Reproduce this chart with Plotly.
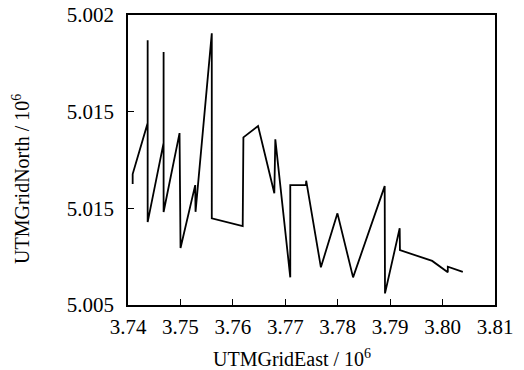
import plotly.graph_objects as go

east = [3.74089, 3.74089, 3.74375, 3.74375, 3.74375, 3.74679, 3.74679, 3.74679,
        3.74983, 3.75002, 3.75282, 3.75288, 3.75598, 3.75598, 3.76188, 3.76201,
        3.76481, 3.76791, 3.76810, 3.77095, 3.77095, 3.77394, 3.77399, 3.77679,
        3.77995, 3.78293, 3.78896, 3.78902, 3.79182, 3.79187, 3.79802, 3.80100,
        3.80100, 3.80386]
north = [5.01126, 5.01177, 5.01441, 5.01870, 5.00929, 5.01338, 5.01808, 5.00981,
         5.01389, 5.00795, 5.01120, 5.00982, 5.01905, 5.00948, 5.00908, 5.01367,
         5.01426, 5.01078, 5.01357, 5.00643, 5.01120, 5.01120, 5.01143, 5.00695,
         5.00974, 5.00643, 5.01115, 5.00560, 5.00897, 5.00784, 5.00728, 5.00669,
         5.00698, 5.00671]

x_ticks = [3.74, 3.75, 3.76, 3.77, 3.78, 3.79, 3.80, 3.81]
x_tick_labels = ["3.74", "3.75", "3.76", "3.77", "3.78", "3.79", "3.80", "3.81"]
y_ticks = [5.005, 5.010, 5.015, 5.020]
y_tick_labels = ["5.005", "5.015", "5.015", "5.002"]
x_title = "UTMGridEast / 10<sup>6</sup>"
y_title = "UTMGridNorth / 10<sup>6</sup>"

font = "Liberation Serif, Times New Roman, serif"

fig = go.Figure()
fig.add_trace(go.Scatter(x=east, y=north, mode="lines",
                         line=dict(color="black", width=1.8),
                         showlegend=False, hoverinfo="skip"))

axis_common = dict(showgrid=False, zeroline=False, showline=True, linecolor="black",
                   linewidth=1.6, mirror=True, ticks="inside", ticklen=6,
                   tickwidth=1.3, tickcolor="black", automargin=False,
                   tickfont=dict(family=font, size=21, color="black"))

fig.update_xaxes(range=[3.74, 3.81], tickvals=x_ticks, ticktext=x_tick_labels,
                 ticklabelstandoff=2, **axis_common)
fig.update_yaxes(range=[5.005, 5.020], tickvals=y_ticks, ticktext=y_tick_labels,
                 ticklabelstandoff=8, **axis_common)

fig.add_annotation(text=x_title, xref="paper", yref="paper", x=0.448, y=-0.183,
                   xanchor="center", yanchor="middle", showarrow=False,
                   font=dict(family=font, size=20, color="black"))
fig.add_annotation(text=y_title, xref="paper", yref="paper", x=-0.292, y=0.434,
                   xanchor="center", yanchor="middle", showarrow=False, textangle=-90,
                   font=dict(family=font, size=20, color="black"))

fig.update_layout(width=524, height=370, margin=dict(l=128, r=29, t=15, b=65),
                  paper_bgcolor="white", plot_bgcolor="white")

fig.write_html("out.html")
